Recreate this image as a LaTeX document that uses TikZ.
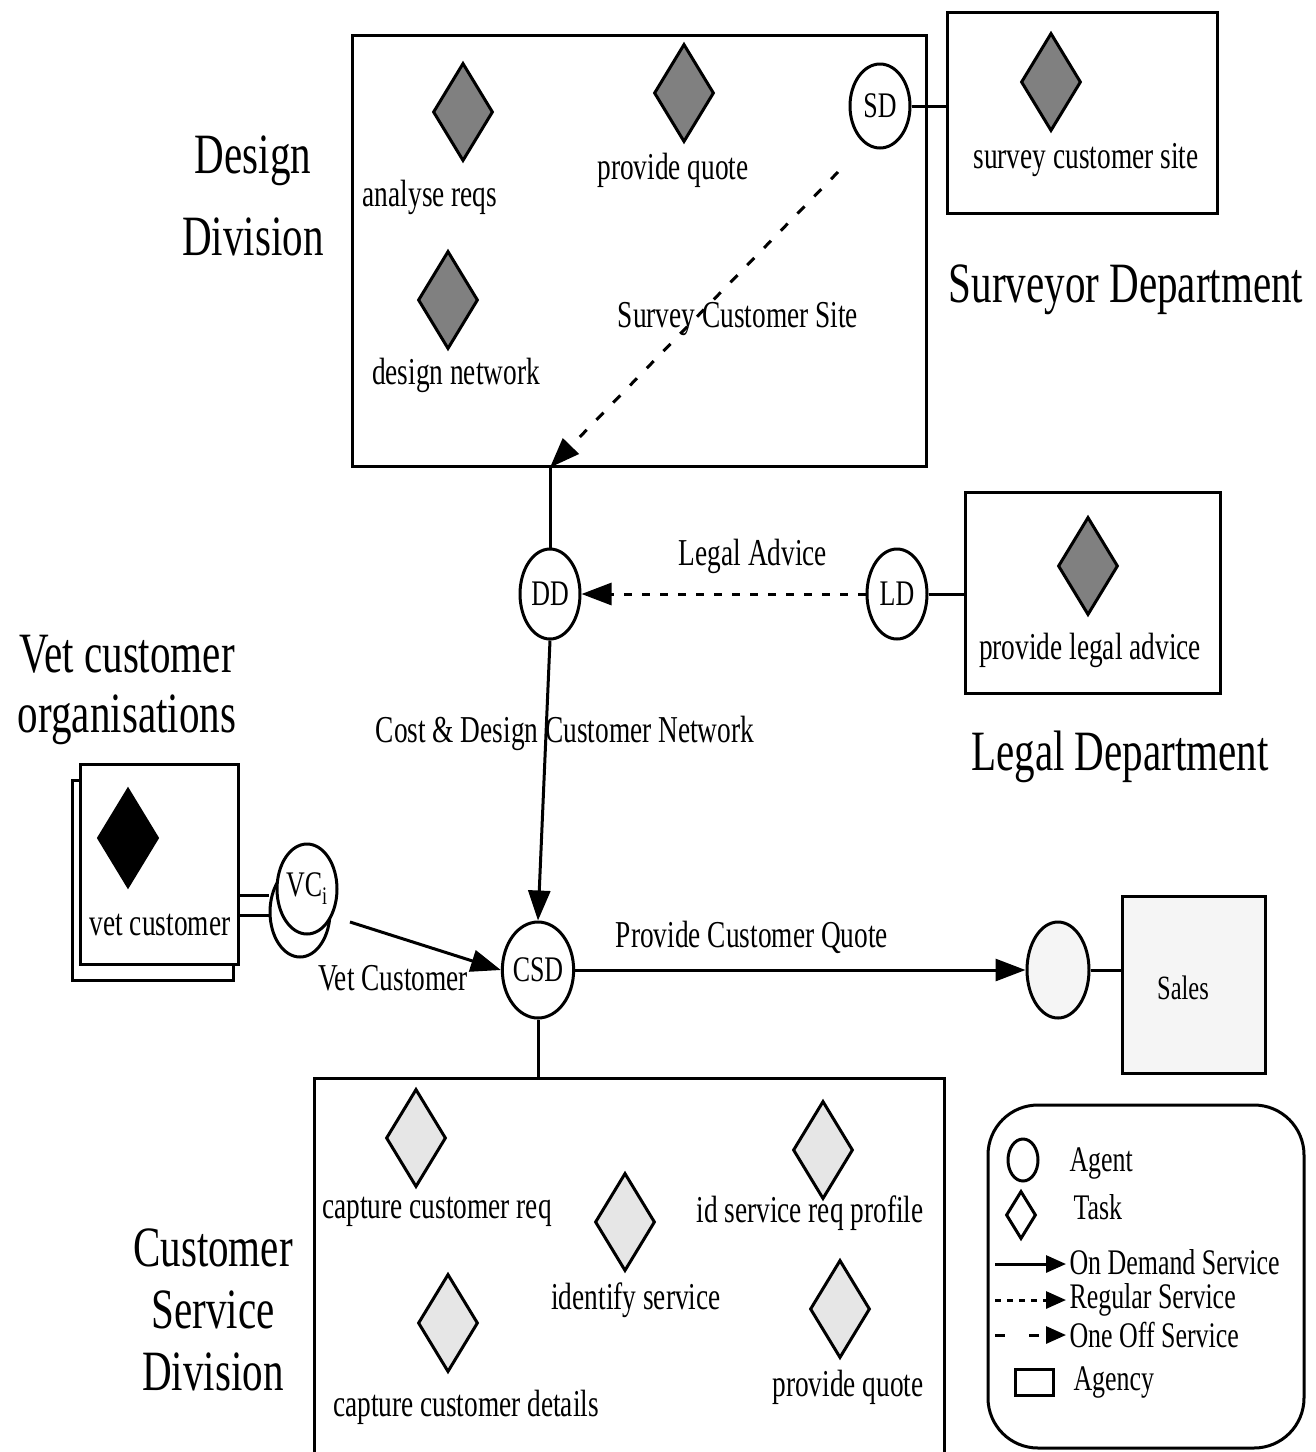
\documentclass[tikz,border=0pt]{standalone}
\usepackage{fontspec}
\newfontfamily\cf[FakeStretch=0.72]{Liberation Serif}
\usetikzlibrary{shapes.geometric,arrows.meta}
\definecolor{taskdark}{HTML}{808080}
\definecolor{tasklight}{HTML}{E6E6E6}
\definecolor{salesfill}{HTML}{F5F5F5}
\begin{document}
\begin{tikzpicture}[x=1pt,y=-1pt,line width=3pt,
  tip/.style={-{Triangle[length=30pt,width=22pt]}},
  smalltip/.style={-{Triangle[length=20pt,width=17pt]}},
  agency/.style={draw,rectangle,inner sep=0},
  agent/.style={draw,ellipse,minimum width=60pt,minimum height=90pt,inner sep=0,font=\cf\fontsize{36}{38}\selectfont},
  task/.style={draw,diamond,minimum width=60pt,minimum height=98pt,inner sep=0},
  dtask/.style={task,fill=taskdark},
  ltask/.style={task,fill=tasklight},
  btask/.style={task,fill=black},
  lbl/.style={font=\cf\fontsize{38}{42}\selectfont,inner sep=0},
  leglbl/.style={font=\cf\fontsize{36}{40}\selectfont,inner sep=0,anchor=west},
  big/.style={inner sep=0,align=center},
  oneoff/.style={dash pattern=on 10pt off 14pt},
  regular/.style={dash pattern=on 8pt off 10pt}]
\useasboundingbox (0,0) rectangle (1316,1452);

% ---------- Design Division ----------
\node[agency,minimum width=574pt,minimum height=431pt] (ddbox) at (639,250.5) {};
\node[dtask] (t1) at (463,112) {};
\node[lbl] (t1l) at (430,197) {analyse reqs};
\node[dtask] (t2) at (684,93) {};
\node[lbl] (t2l) at (673,170) {provide quote};
\node[dtask] (t3) at (448,300) {};
\node[lbl] (t3l) at (456,375) {design network};
\node[agent,minimum height=84pt] (sd) at (880,106) {SD};
\node[big,font=\cf\fontsize{57}{82}\selectfont] (ddl) at (253,196) {Design\\Division};

% ---------- Surveyor Department ----------
\node[agency,minimum width=270pt,minimum height=201pt] (svbox) at (1082,112.5) {};
\node[dtask] (t4) at (1051,82) {};
\node[lbl] (t4l) at (1086,160) {survey customer site};
\node[big,font=\cf\fontsize{57}{62}\selectfont] (svl) at (1126,290) {Surveyor Department};
\draw (sd.east) -- (sd.east -| svbox.west);

% ---------- DD and survey ----------
\node[agent] (dd) at (550,594) {DD};
\coordinate (ddtop) at (dd.north |- ddbox.south);
\coordinate (s1) at (838,172);
\draw[oneoff,tip] (s1) -- (ddtop);
\draw (dd.north) -- (ddtop);
\node[lbl] (scl) at (738,319) {Survey Customer Site};

% ---------- Legal ----------
\node[agent] (ld) at (897,594) {LD};
\node[agency,minimum width=255pt,minimum height=201pt] (lgbox) at (1092.5,592.5) {};
\node[dtask] (t5) at (1088,566) {};
\node[lbl] (t5l) at (1090,650) {provide legal advice};
\node[big,font=\cf\fontsize{57}{62}\selectfont] (lgl) at (1120,757) {Legal Department};
\draw (ld.east) -- (ld.east -| lgbox.west);
\draw[regular,tip] (ld.west) -- (dd.east);
\node[lbl] (lal) at (753,556) {Legal Advice};

% ---------- CSD ----------
\node[agent,minimum height=96pt,minimum width=62pt] (csd) at (538,970) {CSD};
\draw[tip] (dd.south) -- (csd.north);
\node[lbl] (cdl) at (565,733) {Cost \& Design Customer Network};

% ---------- Vet customer ----------
\node[big,font=\cf\fontsize{57}{60}\selectfont] (vcl) at (127,690) {Vet customer\\organisations};
\node[agency,minimum width=161pt,minimum height=200pt] (vback) at (152.5,880) {};
\node[agency,fill=white,minimum width=158pt,minimum height=200pt] (vbox) at (159,864) {};
\node[btask] (t6) at (128,838) {};
\node[lbl] (t6l) at (160,925) {vet customer};
\node[agent] (vcback) at (300,912) {};
\node[agent,fill=white] (vc) at (307,889) {VC\textsubscript{i}};
\coordinate (vl1) at (vbox.east |- 0,895);
\coordinate (vl2) at (vbox.east |- 0,915);
\draw (vl1) -- (vl1 -| vcback.west);
\draw (vl2) -- (vl2 -| vcback.west);
\coordinate (vs) at (350,922);
\draw[tip] (vs) -- (csd.west);
\node[lbl] (vtl) at (393,978) {Vet Customer};

% ---------- Sales ----------
\node[agent,fill=salesfill,minimum height=96pt,minimum width=62pt] (sa) at (1058,970) {};
\node[agency,fill=salesfill,minimum width=143pt,minimum height=177pt] (sbox) at (1193.5,984.5) {};
\node[font=\cf\fontsize{34}{36}\selectfont,inner sep=0] (sl) at (1183,988) {Sales};
\draw (sa.east) -- (sa.east -| sbox.west);
\draw[tip] (csd.east) -- (sa.west);
\node[lbl] (pql) at (752,937) {Provide Customer Quote};

% ---------- Customer Service Division ----------
\node[agency,minimum width=630pt,minimum height=384pt] (csbox) at (629,1270) {};
\draw (csd.south) -- (csd.south |- csbox.north);
\node[ltask] (c1) at (416,1138) {};
\node[lbl] (c1l) at (437,1212) {capture customer req};
\node[ltask] (c2) at (625,1222) {};
\node[lbl] (c2l) at (636,1300) {identify service};
\node[ltask] (c3) at (823,1150) {};
\node[lbl] (c3l) at (810,1213) {id service req profile};
\node[ltask] (c4) at (448,1323) {};
\node[lbl] (c4l) at (466,1407) {capture customer details};
\node[ltask] (c5) at (840,1309) {};
\node[lbl] (c5l) at (848,1387) {provide quote};
\node[big,font=\cf\fontsize{57}{62}\selectfont] (csl) at (213,1310) {Customer\\Service\\Division};

% ---------- Legend ----------
\node[draw,rounded corners=50pt,minimum width=316pt,minimum height=343pt,inner sep=0] (leg) at (1146,1276.5) {};
\node[agent,minimum width=30pt,minimum height=42pt] (la) at (1023,1160) {};
\node[leglbl] (lal2) at (1068,1163) {Agent};
\node[task,minimum width=30pt,minimum height=48pt] (lt) at (1021,1215) {};
\node[leglbl] (ltl) at (1072,1207) {Task};
\coordinate (l1a) at (995,1264);
\coordinate (l1b) at (1066,1264);
\draw[smalltip] (l1a) -- (l1b);
\node[leglbl] (l1l) at (1068,1262) {On Demand Service};
\coordinate (l2a) at (995,1300);
\coordinate (l2b) at (1066,1300);
\draw[dash pattern=on 6pt off 6pt,smalltip] (l2a) -- (l2b);
\node[leglbl] (l2l) at (1068,1300) {Regular Service};
\coordinate (l3a) at (995,1335);
\coordinate (l3b) at (1066,1335);
\draw[dash pattern=on 10pt off 24pt,smalltip] (l3a) -- (l3b);
\node[leglbl] (l3l) at (1068,1335) {One Off Service};
\node[agency,minimum width=38pt,minimum height=26pt] (lag) at (1034,1382) {};
\node[leglbl] (lagl) at (1072,1382) {Agency};
\end{tikzpicture}
\end{document}
